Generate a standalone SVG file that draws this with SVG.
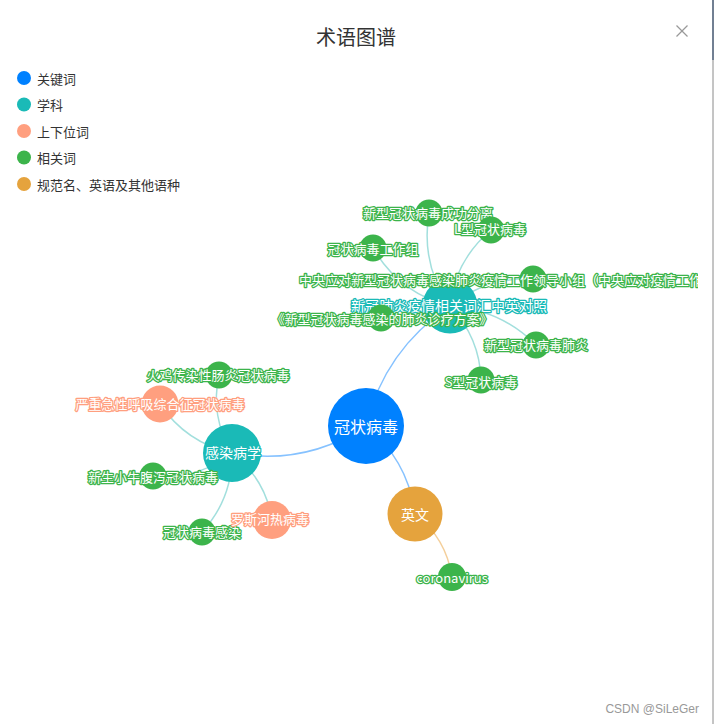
<svg xmlns="http://www.w3.org/2000/svg" width="714" height="724" viewBox="0 0 714 724">
<style>
text{font-family:"Noto Sans CJK SC","Noto Sans",sans-serif}
.lg{font-size:13px;fill:#333;dominant-baseline:central}
.lbl{fill:#fff;text-anchor:middle;dominant-baseline:central;paint-order:stroke;stroke-width:2.6;stroke-linejoin:round}
.g .lbl{stroke:#3cb44b}
.t .lbl{stroke:#1abab7}
.s .lbl{stroke:#ff9f7f}
.k .lbl{stroke:#0081ff}
.o .lbl{stroke:#e5a33d}
.g circle{fill:#3cb44b}
.t circle{fill:#1abab7}
.s circle{fill:#ff9f7f}
.k circle{fill:#0081ff}
.o circle{fill:#e5a33d}
.e{fill:none;stroke-width:1.5}
.eb{stroke:#86c2ff}
.et{stroke:#a2dfdd}
.eo{stroke:#f4cf9b}
</style>
<defs>
<clipPath id="cv"><rect x="0" y="0" width="698" height="724"/></clipPath>
</defs>
<rect width="714" height="724" fill="#fff"/>
<line x1="713" y1="0" x2="713" y2="724" stroke="#8a8a8a" stroke-width="1"/>
<line x1="713" y1="0" x2="713" y2="60" stroke="#1f3a60" stroke-width="1"/>
<text x="356" y="36" font-size="20" fill="#333" text-anchor="middle" dominant-baseline="central">术语图谱</text>
<g id="close" stroke="#999" stroke-width="1.3">
<line x1="676.5" y1="25.5" x2="687.5" y2="36.5"/>
<line x1="687.5" y1="25.5" x2="676.5" y2="36.5"/>
</g>
<g id="legend">
<circle cx="24" cy="78" r="7" fill="#0081ff"/><text class="lg" x="37" y="78">关键词</text>
<circle cx="24" cy="104.5" r="7" fill="#1abab7"/><text class="lg" x="37" y="104.5">学科</text>
<circle cx="24" cy="131" r="7" fill="#ff9f7f"/><text class="lg" x="37" y="131">上下位词</text>
<circle cx="24" cy="157.5" r="7" fill="#3cb44b"/><text class="lg" x="37" y="157.5">相关词</text>
<circle cx="24" cy="184" r="7" fill="#e5a33d"/><text class="lg" x="37" y="184">规范名、英语及其他语种</text>
</g>
<g clip-path="url(#cv)">
<g id="connectors">
<path class="e eb" d="M366,426 Q384.4,350.2 450,306"/>
<path class="e eb" d="M366,426 Q304.4,466.3 232,453"/>
<path class="e eb" d="M366,426 Q408.1,460.2 415,514"/>
<path class="e eo" d="M415,514 Q446.1,538.1 452,577"/>
<path class="e et" d="M450,306 Q420.5,264.7 429,213"/>
<path class="e et" d="M450,306 Q454.9,260.8 491,230"/>
<path class="e et" d="M450,306 Q399.5,293.4 373,248"/>
<path class="e et" d="M450,306 Q485.7,276.9 533,279"/>
<path class="e et" d="M450,306 Q417.5,326.8 381,318"/>
<path class="e et" d="M450,306 Q500.4,309.3 536,345"/>
<path class="e et" d="M450,306 Q479.9,337.8 481,380"/>
<path class="e et" d="M232,453 Q186.2,442.9 160,404"/>
<path class="e et" d="M232,453 Q209.9,416.6 219,375"/>
<path class="e et" d="M232,453 Q197.1,480.3 153,476"/>
<path class="e et" d="M232,453 Q232.8,498.5 202,532"/>
<path class="e et" d="M232,453 Q265.4,478.5 272,520"/>
</g>
<g id="n-main" class="k"><circle cx="366" cy="426" r="38"/><text class="lbl" x="366" y="426" font-size="16">冠状病毒</text></g>
<g id="n-en" class="o"><circle cx="415" cy="514" r="27.5"/><text class="lbl" x="415" y="514" font-size="14">英文</text></g>
<g id="n-corona" class="g"><circle cx="452" cy="577" r="14"/><text class="lbl" x="452" y="577" font-size="13">coronavirus</text></g>
<g id="n-xg" class="t"><circle cx="450" cy="306" r="27.5"/><text class="lbl" x="449" y="305" font-size="14">新冠肺炎疫情相关词汇中英对照</text></g>
<g id="n-zy" class="g"><circle cx="533" cy="279" r="13.5"/><text class="lbl" x="299" y="279" font-size="13" text-anchor="start" style="text-anchor:start">中央应对新型冠状病毒感染肺炎疫情工作领导小组（中央应对疫情工作</text></g>
<g id="n-gzb" class="g"><circle cx="373" cy="248" r="13.5"/><text class="lbl" x="373" y="248" font-size="13">冠状病毒工作组</text></g>
<g id="n-cgfl" class="g"><circle cx="429" cy="213" r="13.5"/><text class="lbl" x="428" y="212.5" font-size="13">新型冠状病毒成功分离</text></g>
<g id="n-l" class="g"><circle cx="491" cy="230" r="13.5"/><text class="lbl" x="490" y="228.5" font-size="13">L型冠状病毒</text></g>
<g id="n-fa" class="g"><circle cx="381" cy="318" r="13.5"/><text class="lbl" x="382" y="318" font-size="13">《新型冠状病毒感染的肺炎诊疗方案》</text></g>
<g id="n-fy" class="g"><circle cx="536" cy="345" r="13.5"/><text class="lbl" x="536" y="344" font-size="13">新型冠状病毒肺炎</text></g>
<g id="n-s" class="g"><circle cx="481" cy="380" r="13.5"/><text class="lbl" x="481" y="381" font-size="13">S型冠状病毒</text></g>
<g id="n-grb" class="t"><circle cx="232" cy="453" r="29"/><text class="lbl" x="233" y="452" font-size="14">感染病学</text></g>
<g id="n-hj" class="g"><circle cx="219" cy="375" r="13.5"/><text class="lbl" x="218" y="374" font-size="13">火鸡传染性肠炎冠状病毒</text></g>
<g id="n-sars" class="s"><circle cx="160" cy="404" r="18.5"/><text class="lbl" x="160" y="403" font-size="13">严重急性呼吸综合征冠状病毒</text></g>
<g id="n-xn" class="g"><circle cx="153" cy="476" r="13.5"/><text class="lbl" x="153" y="476" font-size="13">新生小牛腹泻冠状病毒</text></g>
<g id="n-grs" class="g"><circle cx="202" cy="532" r="13.5"/><text class="lbl" x="202" y="531" font-size="13">冠状病毒感染</text></g>
<g id="n-ls" class="s"><circle cx="272" cy="520" r="19"/><text class="lbl" x="270" y="518" font-size="13">罗斯河热病毒</text></g>
</g>
<text x="699" y="709" font-size="12" fill="#999" text-anchor="end" dominant-baseline="central" style="font-family:'Liberation Sans',Arial,sans-serif">CSDN @SiLeGer</text>
</svg>
